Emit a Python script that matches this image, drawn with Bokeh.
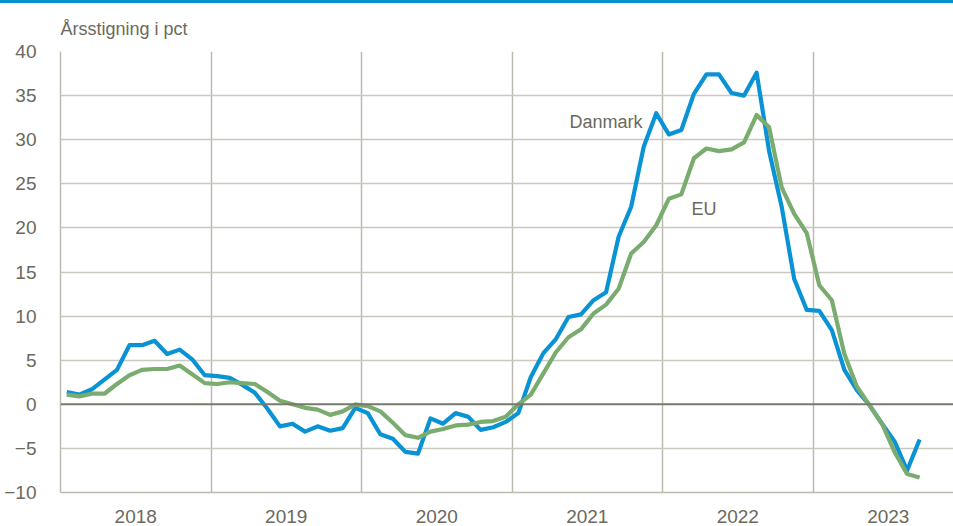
from bokeh.plotting import figure
from bokeh.models import FixedTicker, Span, Label, Div, ColumnDataSource
from bokeh.layouts import column
from bokeh.embed import file_html
from bokeh.resources import INLINE

# Monthly annual growth (pct), Jan 2018 .. Sep 2023
danmark = [1.4, 1.1, 1.7, 2.8, 3.9, 6.7, 6.7, 7.2, 5.7, 6.2, 5.1, 3.3,
           3.2, 3.0, 2.2, 1.3, -0.5, -2.5, -2.2, -3.1, -2.5, -3.0, -2.7, -0.4,
           -1.0, -3.4, -3.9, -5.4, -5.6, -1.6, -2.2, -1.0, -1.4, -2.9, -2.6, -2.0,
           -1.0, 3.1, 5.8, 7.4, 9.9, 10.2, 11.8, 12.7, 19.0, 22.4, 29.2, 33.0,
           30.6, 31.1, 35.2, 37.4, 37.4, 35.3, 35.0, 37.6, 28.7, 22.4, 14.2, 10.7,
           10.6, 8.4, 3.9, 1.6, -0.1, -2.2, -4.2, -7.5, -4.0]
eu = [1.1, 0.9, 1.2, 1.2, 2.3, 3.3, 3.9, 4.0, 4.0, 4.4, 3.4, 2.4,
      2.3, 2.5, 2.4, 2.3, 1.4, 0.4, 0.0, -0.4, -0.6, -1.2, -0.8, 0.0,
      -0.2, -0.8, -2.1, -3.5, -3.8, -3.1, -2.8, -2.4, -2.3, -2.0, -1.9, -1.4,
      0.0, 1.1, 3.5, 5.9, 7.6, 8.5, 10.3, 11.3, 13.1, 17.1, 18.4, 20.3,
      23.3, 23.8, 27.9, 29.0, 28.7, 28.9, 29.7, 32.8, 31.4, 24.6, 21.6, 19.4,
      13.5, 11.8, 5.7, 2.0, -0.1, -2.2, -5.4, -7.9, -8.3]
years = ["2018", "2019", "2020", "2021", "2022", "2023"]
y_ticks = [-10, -5, 0, 5, 10, 15, 20, 25, 30, 35, 40]

months = [i + 0.5 for i in range(len(danmark))]

FONT = "'Liberation Sans', Arial, sans-serif"
TXT = "#6b695d"
BLUE = "#0a93d4"
GREEN = "#7aab6f"
GRID = "#bdbab0"

p = figure(width=953, height=523, output_backend="svg", toolbar_location=None,
           x_range=(0, 71.2), y_range=(-10, 40),
           min_border_left=60, min_border_right=0, min_border_top=48, min_border_bottom=34)

p.title.text = "Årsstigning i pct"
p.title.text_font = FONT
p.title.text_font_size = "18px"
p.title.text_font_style = "normal"
p.title.text_color = TXT
p.title.align = "left"
p.title.standoff = 25
p.title.offset = 0

p.outline_line_color = None

# axes
p.xaxis.ticker = FixedTicker(ticks=[6 + 12 * k for k in range(len(years))])
p.xaxis.major_label_overrides = {6 + 12 * k: years[k] for k in range(len(years))}
p.yaxis.ticker = FixedTicker(ticks=y_ticks)
for ax in (p.xaxis[0], p.yaxis[0]):
    ax.major_tick_line_color = None
    ax.minor_tick_line_color = None
    ax.axis_line_color = GRID
    ax.axis_line_width = 1.5
    ax.major_label_text_font = FONT
    ax.major_label_text_font_size = "19px"
    ax.major_label_text_color = TXT
p.xaxis.major_label_standoff = 11
p.yaxis.major_label_standoff = 18

p.xgrid.ticker = FixedTicker(ticks=[12, 24, 36, 48, 60])
p.xgrid.grid_line_color = GRID
p.xgrid.grid_line_width = 1.5
p.ygrid.ticker = FixedTicker(ticks=[-5, 5, 10, 15, 20, 25, 30, 35, 40])
p.ygrid.grid_line_color = "#cbc8bf"
p.ygrid.grid_line_width = 1.5

p.add_layout(Span(location=0, dimension="width", line_color="#7a776c", line_width=2))

src = ColumnDataSource(dict(x=months, dk=danmark, eu=eu))
p.line("x", "dk", source=src, line_color=BLUE, line_width=4.2, line_join="round")
p.line("x", "eu", source=src, line_color=GREEN, line_width=4.2, line_join="round")

p.add_layout(Label(x=43.5, y=32.0, text="Danmark", text_align="center", text_baseline="middle",
                   text_font=FONT, text_font_size="18px", text_color=TXT))
p.add_layout(Label(x=51.3, y=22.1, text="EU", text_align="center", text_baseline="middle",
                   text_font=FONT, text_font_size="18px", text_color=TXT))

bar = Div(text="", width=953, height=3, margin=0, styles={"background-color": "#0091d1"})
layout = column(bar, p, spacing=0)

open("out.html", "w").write(file_html(layout, INLINE))
